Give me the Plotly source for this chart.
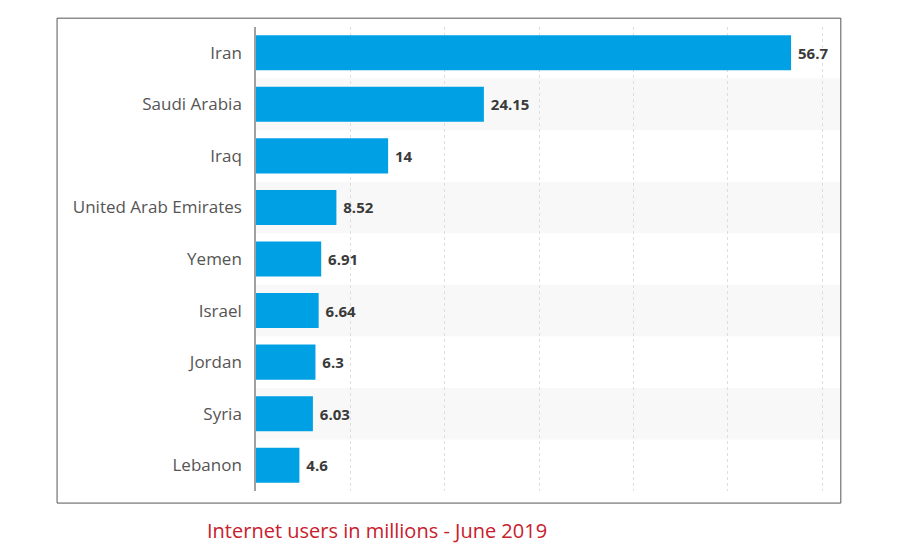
import plotly.graph_objects as go

# Internet users in millions, June 2019
countries = ["Iran", "Saudi Arabia", "Iraq", "United Arab Emirates", "Yemen",
             "Israel", "Jordan", "Syria", "Lebanon"]
users = [56.7, 24.15, 14, 8.52, 6.91, 6.64, 6.3, 6.03, 4.6]
x_ticks = [0, 10, 20, 30, 40, 50, 60]
caption = "Internet users in millions - June 2019"

fig = go.Figure()

fig.add_trace(go.Bar(
    x=users,
    y=countries,
    orientation="h",
    width=0.68,
    marker=dict(color="#00a1e4", line=dict(width=0)),
    text=["\u00a0" + f"{v:g}" for v in users],
    textposition="outside",
    cliponaxis=False,
    textfont=dict(family="Open Sans", size=15, color="#3a3a3a", weight="bold"),
    hoverinfo="x+y",
))

# faint bands behind every other row
shapes = []
for i in range(1, len(countries), 2):
    shapes.append(dict(
        type="rect", xref="paper", yref="y",
        x0=0, x1=1.026, y0=i - 0.5, y1=i + 0.5,
        fillcolor="#f8f8f8", line=dict(width=0), layer="below",
    ))

# outer frame
shapes.append(dict(
    type="rect", xref="paper", yref="paper",
    x0=-0.349, x1=1.026, y0=-0.026, y1=1.019,
    line=dict(color="#555555", width=1), fillcolor="rgba(0,0,0,0)",
))

fig.update_layout(
    width=910,
    height=548,
    margin=dict(l=248, r=92, t=19, b=65),
    paper_bgcolor="white",
    plot_bgcolor="rgba(0,0,0,0)",
    showlegend=False,
    shapes=shapes,
    annotations=[dict(
        text=caption, xref="paper", yref="paper",
        x=-0.089, y=-0.086, xanchor="left", yanchor="middle",
        showarrow=False,
        font=dict(family="Open Sans", size=20, color="#c8202c"),
    )],
)

fig.update_xaxes(
    range=[0, 60.4],
    tickvals=x_ticks,
    showticklabels=False,
    showgrid=True,
    gridcolor="#dedede",
    griddash="dot",
    gridwidth=1,
    zeroline=False,
    showline=False,
)

fig.update_yaxes(
    categoryorder="array",
    categoryarray=countries,
    autorange="reversed",
    showgrid=False,
    showline=True,
    linecolor="#a0a0a0",
    linewidth=1.5,
    ticks="outside",
    ticklen=9,
    tickcolor="rgba(0,0,0,0)",
    tickfont=dict(family="Open Sans", size=17, color="#555555"),
)

fig.write_html("out.html")
